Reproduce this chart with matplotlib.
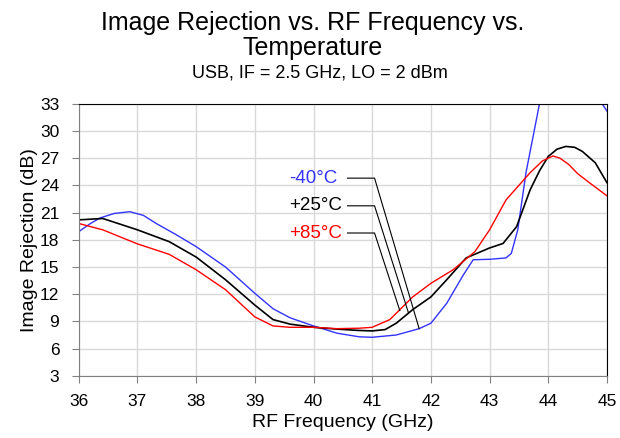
import matplotlib.pyplot as plt

plt.rcParams['font.family'] = ['Liberation Sans', 'DejaVu Sans']

# RF frequency (GHz) and image rejection (dB)
freq_m40 = [36.0, 36.2, 36.36, 36.6, 36.87, 37.1, 37.32, 37.65, 38.0, 38.5, 39.0, 39.31,
            39.6, 40.0, 40.4, 40.78, 41.0, 41.41, 41.8, 42.0, 42.27, 42.55, 42.72,
            43.0, 43.28, 43.37, 43.48, 43.62, 43.85, 44.1, 44.5, 45.0]
ir_m40 = [18.9, 19.8, 20.4, 20.9, 21.1, 20.7, 19.8, 18.6, 17.25, 15.0, 12.1, 10.4,
          9.4, 8.5, 7.7, 7.3, 7.25, 7.5, 8.2, 8.8, 11.0, 14.1, 15.8,
          15.85, 16.0, 16.5, 19.1, 25.4, 33.0, 36.0, 37.0, 32.2]

freq_p25 = [36.0, 36.41, 37.0, 37.54, 38.0, 38.5, 39.0, 39.31, 39.6, 40.0, 40.4, 40.78,
            41.0, 41.22, 41.41, 41.69, 42.0, 42.27, 42.6, 43.0, 43.23, 43.46, 43.69,
            43.85, 44.0, 44.15, 44.3, 44.45, 44.58, 44.8, 45.0]
ir_p25 = [20.2, 20.35, 19.1, 17.8, 16.1, 13.6, 10.8, 9.2, 8.7, 8.35, 8.15, 8.0,
          7.95, 8.1, 8.8, 10.3, 11.7, 13.6, 16.0, 17.1, 17.6, 19.45, 23.5,
          25.6, 27.2, 28.0, 28.3, 28.2, 27.75, 26.5, 24.3]

freq_p85 = [36.0, 36.41, 37.0, 37.54, 38.0, 38.5, 39.0, 39.31, 39.6, 40.0, 40.4, 40.78,
            41.0, 41.3, 41.69, 42.0, 42.38, 42.75, 43.0, 43.28, 43.69, 43.9, 44.08,
            44.2, 44.35, 44.5, 44.7, 45.0]
ir_p85 = [19.8, 19.1, 17.55, 16.4, 14.7, 12.5, 9.5, 8.5, 8.35, 8.35, 8.2, 8.25,
          8.35, 9.2, 11.7, 13.2, 14.7, 16.7, 19.1, 22.4, 25.4, 26.7, 27.25,
          27.0, 26.3, 25.3, 24.3, 22.85]

labels = ['-40°C', '+25°C', '+85°C']
colors = ['#3333ff', 'black', 'red']
# where each leader line touches its curve
label_points = [(41.8, 8.2), (41.62, 9.9), (41.47, 10.2)]
text_y = [24.8, 21.75, 18.75]

fig = plt.figure(figsize=(6.2, 4.38), dpi=100)
ax = fig.add_axes([0.127, 0.142, 0.852, 0.621])

ax.plot(freq_m40, ir_m40, color=colors[0], lw=1.0)
ax.plot(freq_p25, ir_p25, color=colors[1], lw=1.2)
ax.plot(freq_p85, ir_p85, color=colors[2], lw=1.0)

ax.set_xlim(36, 45)
ax.set_ylim(3, 33)
ax.set_xticks(range(36, 46))
ax.set_yticks(range(3, 34, 3))
ax.grid(True, color='#d9d9d9', lw=1.0)
ax.set_axisbelow(True)
ax.tick_params(labelsize=12.5, color='#808080', length=5, direction='out')
ax.tick_params(axis='x', pad=8)
ax.tick_params(axis='y', pad=9)
for s in ['left', 'bottom']:
    ax.spines[s].set_color('#808080')
for s in ['top', 'right']:
    ax.spines[s].set_color('black')

ax.set_xlabel('RF Frequency (GHz)', fontsize=14, labelpad=4)
ax.set_ylabel('Image Rejection (dB)', fontsize=14, labelpad=1)

# labels with leader lines
for lab, c, (px, py), ty in zip(labels, colors, label_points, text_y):
    ax.text(39.58, ty, lab, color=c, fontsize=13.5, va='center', ha='left')
    ax.plot([40.58, 41.04, px], [ty, ty, py], color='black', lw=0.8)

fig.text(0.505, 0.975, 'Image Rejection vs. RF Frequency vs.\nTemperature',
         ha='center', va='top', fontsize=18, linespacing=1.05)
fig.text(0.516, 0.833, 'USB, IF = 2.5 GHz, LO = 2 dBm', ha='center', va='center', fontsize=13)

fig.savefig('out.png', dpi=100)
